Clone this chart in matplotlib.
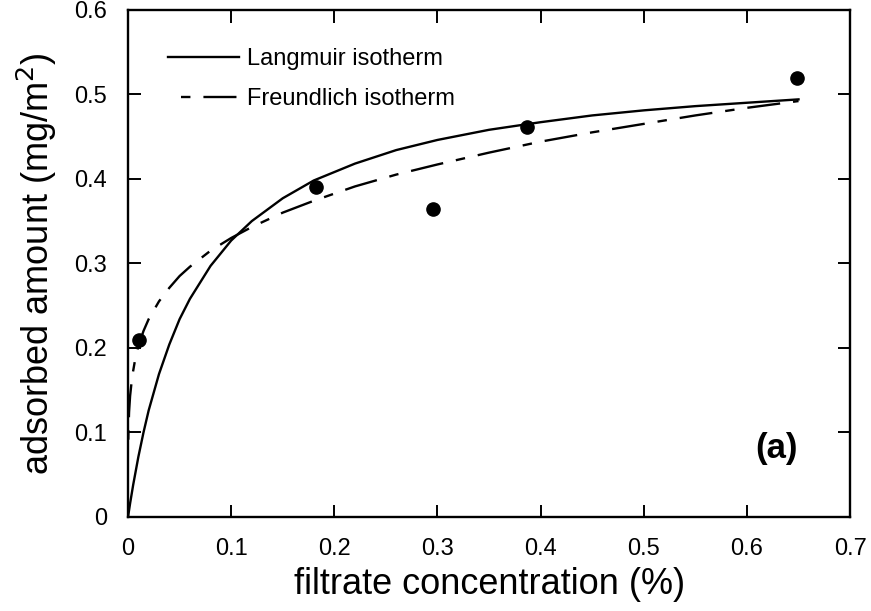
import matplotlib
matplotlib.use("Agg")
import matplotlib.pyplot as plt

plt.rcParams.update({"font.family": "Liberation Sans", "font.size": 15})

# measured adsorption points
conc_pts = [0.011, 0.182, 0.296, 0.387, 0.649]
ads_pts = [0.209, 0.390, 0.364, 0.461, 0.519]

# Langmuir curve
lang_c = [0, 0.002, 0.005, 0.01, 0.015, 0.02, 0.03, 0.04, 0.05, 0.06, 0.08, 0.10,
          0.12, 0.15, 0.18, 0.22, 0.26, 0.30, 0.35, 0.40, 0.45, 0.50, 0.55, 0.60, 0.65]
lang_q = [0, 0.016, 0.038, 0.071, 0.100, 0.126, 0.169, 0.204, 0.234, 0.258, 0.297, 0.327,
          0.350, 0.377, 0.398, 0.418, 0.434, 0.446, 0.458, 0.467, 0.475, 0.481, 0.486, 0.490, 0.494]

# Freundlich curve
freu_c = [0.0001, 0.0003, 0.001, 0.002, 0.004, 0.007, 0.01, 0.015, 0.02, 0.03, 0.04, 0.05, 0.06,
          0.08, 0.10, 0.12, 0.15, 0.18, 0.22, 0.26, 0.30, 0.35, 0.40, 0.45, 0.50, 0.55, 0.60, 0.65]
freu_q = [0.076, 0.096, 0.124, 0.143, 0.166, 0.187, 0.202, 0.220, 0.234, 0.255, 0.271, 0.285, 0.296,
          0.315, 0.330, 0.343, 0.360, 0.374, 0.391, 0.405, 0.417, 0.431, 0.444, 0.455, 0.465, 0.475, 0.484, 0.492]

xticks = [0, 0.1, 0.2, 0.3, 0.4, 0.5, 0.6, 0.7]
xtick_labels = ["0", "0.1", "0.2", "0.3", "0.4", "0.5", "0.6", "0.7"]
yticks = [0, 0.1, 0.2, 0.3, 0.4, 0.5, 0.6]
ytick_labels = ["0", "0.1", "0.2", "0.3", "0.4", "0.5", "0.6"]

fig = plt.figure(figsize=(8.71, 6.11), dpi=100)
ax = fig.add_axes([0.147, 0.154, 0.829, 0.830])

ax.plot(lang_c, lang_q, color="black", linewidth=1.7, label="Langmuir isotherm")
ax.plot(freu_c, freu_q, color="black", linewidth=1.7, linestyle=(14, (14, 5.5, 4, 5.5)),
        label="Freundlich isotherm")
ax.plot(conc_pts, ads_pts, "o", color="black", markersize=9.5)

ax.set_xlim(0, 0.7)
ax.set_ylim(0, 0.6)
ax.set_xticks(xticks)
ax.set_xticklabels(xtick_labels)
ax.set_yticks(yticks)
ax.set_yticklabels(ytick_labels)
ax.tick_params(direction="in", length=9, width=1.4, top=True, right=True, labelsize=17, pad=15)
for s in ax.spines.values():
    s.set_linewidth(1.7)

ax.set_xlabel("filtrate concentration (%)", fontsize=26, labelpad=5)
ax.set_ylabel("adsorbed amount (mg/m$^2$)", fontsize=26, labelpad=11)
ax.text(0.649, 0.081, "(a)", fontsize=25, fontweight="bold", ha="right", va="center")

ax.legend(loc="upper left", bbox_to_anchor=(0.055, 0.925), frameon=False, fontsize=17,
          handlelength=3.0, handletextpad=0.35, labelspacing=0.77,
          borderpad=0, borderaxespad=0)

fig.savefig("out.png", dpi=100)
